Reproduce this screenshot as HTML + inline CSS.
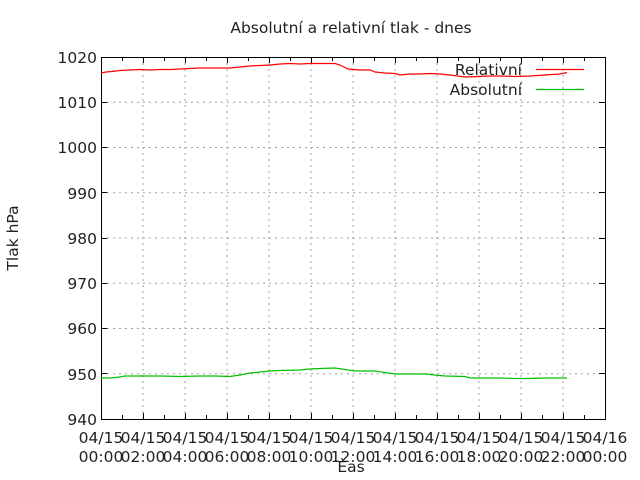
<!DOCTYPE html>
<html><head><meta charset="utf-8"><style>
body{margin:0;background:#fff}
svg{display:block}
text{font-family:"DejaVu Sans","Liberation Sans",sans-serif;font-size:15.5px;fill:#222}
</style></head><body>
<svg width="640" height="480" xmlns="http://www.w3.org/2000/svg">
<g stroke="#a0a0a0" stroke-dasharray="2,4" stroke-width="1">
<line x1="101" y1="102.25" x2="605" y2="102.25"/>
<line x1="101" y1="147.5" x2="605" y2="147.5"/>
<line x1="101" y1="192.75" x2="605" y2="192.75"/>
<line x1="101" y1="238" x2="605" y2="238"/>
<line x1="101" y1="283.25" x2="605" y2="283.25"/>
<line x1="101" y1="328.5" x2="605" y2="328.5"/>
<line x1="101" y1="373.75" x2="605" y2="373.75"/>
<line x1="143" y1="57" x2="143" y2="419"/><line x1="185" y1="57" x2="185" y2="419"/>
<line x1="227" y1="57" x2="227" y2="419"/><line x1="269" y1="57" x2="269" y2="419"/>
<line x1="311" y1="57" x2="311" y2="419"/><line x1="353" y1="57" x2="353" y2="419"/>
<line x1="395" y1="57" x2="395" y2="419"/><line x1="437" y1="57" x2="437" y2="419"/>
<line x1="479" y1="57" x2="479" y2="419"/><line x1="521" y1="57" x2="521" y2="419"/>
<line x1="563" y1="57" x2="563" y2="419"/>
</g>
<g stroke="#000" stroke-width="1">
<path d="M101.5 57.5H605.5V419.5H101.5Z" fill="none"/>
<path d="M101 102.5h6M101 147.5h6M101 192.5h6M101 238.5h6M101 283.5h6M101 328.5h6M101 373.5h6M605 102.5h-6M605 147.5h-6M605 192.5h-6M605 238.5h-6M605 283.5h-6M605 328.5h-6M605 373.5h-6"/>
<path d="M122.5 419v-4M143.5 419v-6M164.5 419v-4M185.5 419v-6M206.5 419v-4M227.5 419v-6M248.5 419v-4M269.5 419v-6M290.5 419v-4M311.5 419v-6M332.5 419v-4M353.5 419v-6M374.5 419v-4M395.5 419v-6M416.5 419v-4M437.5 419v-6M458.5 419v-4M479.5 419v-6M500.5 419v-4M521.5 419v-6M542.5 419v-4M563.5 419v-6M584.5 419v-4"/>
<path d="M122.5 57v4M143.5 57v6M164.5 57v4M185.5 57v6M206.5 57v4M227.5 57v6M248.5 57v4M269.5 57v6M290.5 57v4M311.5 57v6M332.5 57v4M353.5 57v6M374.5 57v4M395.5 57v6M416.5 57v4M437.5 57v6M458.5 57v4M479.5 57v6M500.5 57v4M521.5 57v6M542.5 57v4M563.5 57v6M584.5 57v4"/>
</g>
<polyline fill="none" stroke="#ff0000" stroke-width="1.2" points="101,73 106,72 112,71.5 120,70.5 130,70 140,69.5 150,70 160,69.5 170,69.5 180,69 190,68.5 200,68 210,68 220,68 230,68 240,67 250,66 260,65.5 270,65 280,64 290,63.5 300,64 310,63.5 320,63.5 335,63.5 340,65 348,69 360,70 370,70 375,72 385,73 395,73.5 400,75 410,74 420,74 430,73.5 440,74 450,75 465,77 480,76.5 490,76 500,76 515,76.5 530,76 545,75 560,74 567,72.5"/>
<polyline fill="none" stroke="#00c000" stroke-width="1.2" points="101,378 110,378 120,377 125,376 140,376 160,376 180,376.5 200,376 215,376 230,376.5 240,375 250,373 260,372 270,371 280,370.5 300,370 310,369 320,368.5 335,368 345,369.5 355,371 375,371 385,372.5 395,374 410,374 425,374 435,375 445,376 465,376.5 470,378 485,378 500,378 515,378.5 530,378.5 545,378 560,378 567,378"/>
<line x1="536" y1="69.5" x2="584" y2="69.5" stroke="#ff0000" stroke-width="1.2"/>
<line x1="536" y1="89.5" x2="584" y2="89.5" stroke="#00c000" stroke-width="1.2"/>
<text x="522" y="75" text-anchor="end">Relativní</text>
<text x="522" y="95" text-anchor="end">Absolutní</text>
<text x="351" y="33" text-anchor="middle">Absolutní a relativní tlak - dnes</text>
<text x="351" y="472" text-anchor="middle">Èas</text>
<text transform="translate(18,238) rotate(-90)" text-anchor="middle">Tlak hPa</text>
<g text-anchor="end">
<text x="97" y="63">1020</text><text x="97" y="108">1010</text><text x="97" y="153">1000</text>
<text x="97" y="199">990</text><text x="97" y="244">980</text><text x="97" y="289">970</text>
<text x="97" y="334">960</text><text x="97" y="380">950</text><text x="97" y="425">940</text>
</g>
<g text-anchor="middle">
<text x="101" y="443">04/15</text><text x="143" y="443">04/15</text><text x="185" y="443">04/15</text><text x="227" y="443">04/15</text><text x="269" y="443">04/15</text><text x="311" y="443">04/15</text><text x="353" y="443">04/15</text><text x="395" y="443">04/15</text><text x="437" y="443">04/15</text><text x="479" y="443">04/15</text><text x="521" y="443">04/15</text><text x="563" y="443">04/15</text><text x="605" y="443">04/16</text>
<text x="101" y="462">00:00</text><text x="143" y="462">02:00</text><text x="185" y="462">04:00</text><text x="227" y="462">06:00</text><text x="269" y="462">08:00</text><text x="311" y="462">10:00</text><text x="353" y="462">12:00</text><text x="395" y="462">14:00</text><text x="437" y="462">16:00</text><text x="479" y="462">18:00</text><text x="521" y="462">20:00</text><text x="563" y="462">22:00</text><text x="605" y="462">00:00</text>
</g>
</svg>
</body></html>
